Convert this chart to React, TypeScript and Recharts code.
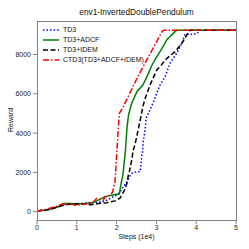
import React from "react";
import { LineChart, Line, XAxis, YAxis } from "recharts";

const title = "env1-InvertedDoublePendulum";
const xLabel = "Steps (1e4)";
const yLabel = "Reward";
const xTicks = [0, 1, 2, 3, 4, 5];
const yTicks = [0, 2000, 4000, 6000, 8000];

const td3Steps = [0, 0.2, 0.4, 0.6, 0.7, 0.9, 1.1, 1.3, 1.5, 1.65, 1.76, 1.92, 2.01, 2.09, 2.17, 2.26, 2.33, 2.38, 2.45, 2.51, 2.59, 2.61, 2.63, 2.65, 2.67, 2.72, 2.74, 2.8, 2.93, 3.09, 3.22, 3.34, 3.51, 3.64, 3.72, 3.85, 4.01, 4.1, 5];
const td3Reward = [40, 90, 170, 300, 380, 400, 420, 460, 480, 520, 596, 763, 850, 1018, 1272, 1527, 1800, 1955, 2000, 2036, 2040, 2377, 2800, 3000, 3563, 4245, 4754, 5009, 5599, 6449, 6872, 7554, 8063, 8572, 9020, 9030, 9045, 9230, 9230];

const adcfSteps = [0, 0.2, 0.4, 0.6, 0.65, 0.8, 1.0, 1.2, 1.4, 1.55, 1.7, 1.85, 1.96, 2.07, 2.11, 2.16, 2.22, 2.26, 2.3, 2.38, 2.51, 2.66, 2.78, 2.89, 3.0, 3.09, 3.18, 3.26, 3.36, 3.47, 3.51, 5];
const adcfReward = [50, 80, 160, 300, 420, 420, 410, 420, 450, 600, 750, 830, 880, 900, 1400, 1900, 3054, 4245, 4922, 5518, 6108, 6449, 6950, 7467, 7850, 8144, 8450, 8740, 8950, 9162, 9230, 9230];

const idemSteps = [0, 0.3, 0.6, 0.8, 1.0, 1.2, 1.34, 1.5, 1.76, 1.96, 2.09, 2.17, 2.22, 2.26, 2.3, 2.32, 2.38, 2.42, 2.47, 2.55, 2.67, 2.72, 2.84, 3.01, 3.12, 3.22, 3.35, 3.47, 3.64, 3.8, 3.85, 5];
const idemReward = [30, 110, 300, 380, 400, 380, 360, 400, 460, 550, 700, 1000, 1200, 1445, 1919, 2036, 2632, 3140, 3482, 4245, 5431, 5772, 6449, 7213, 7450, 7722, 7950, 8144, 8572, 9111, 9230, 9230];

const ctd3Steps = [0, 0.2, 0.46, 0.63, 0.8, 0.96, 1.1, 1.21, 1.35, 1.42, 1.5, 1.58, 1.67, 1.71, 1.84, 1.9, 1.96, 2.01, 2.04, 2.07, 2.17, 2.3, 2.42, 2.6, 2.8, 3.0, 3.14, 3.18, 5];
const ctd3Reward = [36, 100, 255, 377, 420, 330, 360, 392, 450, 509, 680, 620, 596, 763, 850, 1000, 1527, 3140, 4160, 5009, 5345, 5900, 6400, 7127, 7881, 8634, 9162, 9230, 9230];

const build = (xs: number[], ys: number[]) => xs.map((x, i) => ({ x, y: ys[i] }));

const series = [
  { name: "TD3", data: build(td3Steps, td3Reward), color: "#0000ff", dash: "1.5 2" },
  { name: "TD3+ADCF", data: build(adcfSteps, adcfReward), color: "#008000", dash: undefined },
  { name: "TD3+IDEM", data: build(idemSteps, idemReward), color: "#000000", dash: "5 2.5" },
  { name: "CTD3(TD3+ADCF+IDEM)", data: build(ctd3Steps, ctd3Reward), color: "#ff0000", dash: "6 2 1.5 2" },
];

const font = "'Liberation Sans', Arial, sans-serif";

export default function App() {
  return (
    <div style={{ position: "fixed", left: 0, top: 0, width: 249, height: 249, background: "#fff", fontFamily: font }}>
      <LineChart width={249} height={249} margin={{ top: 21, right: 13, bottom: 0, left: 0 }}>
        <XAxis
          type="number"
          dataKey="x"
          domain={[0, 5]}
          ticks={xTicks}
          allowDataOverflow
          height={29}
          axisLine={false}
          tickSize={4}
          tickMargin={1}
          tickLine={{ stroke: "#808080" }}
          tick={{ fontSize: 7, fill: "#222", fontFamily: font }}
        />
        <YAxis
          type="number"
          dataKey="y"
          domain={[-422, 9705]}
          ticks={yTicks}
          allowDataOverflow
          width={37}
          axisLine={false}
          tickSize={4}
          tickMargin={2}
          tickLine={{ stroke: "#808080" }}
          tick={{ fontSize: 7, fill: "#222", fontFamily: font }}
        />
        {series.map((s) => (
          <Line
            key={s.name}
            data={s.data}
            dataKey="y"
            type="linear"
            stroke={s.color}
            strokeWidth={1.5}
            strokeDasharray={s.dash}
            dot={false}
            activeDot={false}
            isAnimationActive={false}
          />
        ))}
      </LineChart>
      <div style={{ position: "absolute", left: 36.5, top: 20.5, width: 200, height: 200, boxSizing: "border-box", border: "1px solid #808080", pointerEvents: "none" }} />
      <div style={{ position: "absolute", left: 0, width: 249, top: 7, textAlign: "center", paddingLeft: 24, boxSizing: "border-box", fontSize: 8.3, color: "#111", lineHeight: "10px" }}>
        {title}
      </div>
      <div style={{ position: "absolute", left: 0, width: 249, top: 232, textAlign: "center", paddingLeft: 24, boxSizing: "border-box", fontSize: 7, color: "#111", lineHeight: "9px" }}>
        {xLabel}
      </div>
      <div style={{ position: "absolute", left: 10.7 - 30, top: 120 - 5, width: 60, height: 10, textAlign: "center", fontSize: 7, color: "#111", lineHeight: "10px", transform: "rotate(-90deg)" }}>
        {yLabel}
      </div>
      <div style={{ position: "absolute", left: 42, top: 25 }}>
        {series.map((s) => (
          <div key={s.name} style={{ display: "flex", alignItems: "center", height: 10, fontSize: 7, color: "#111", lineHeight: "10px" }}>
            <svg width={18} height={10} style={{ marginRight: 3 }}>
              <line x1={1} y1={5} x2={17} y2={5} stroke={s.color} strokeWidth={1.5} strokeDasharray={s.dash} />
            </svg>
            <span>{s.name}</span>
          </div>
        ))}
      </div>
    </div>
  );
}
